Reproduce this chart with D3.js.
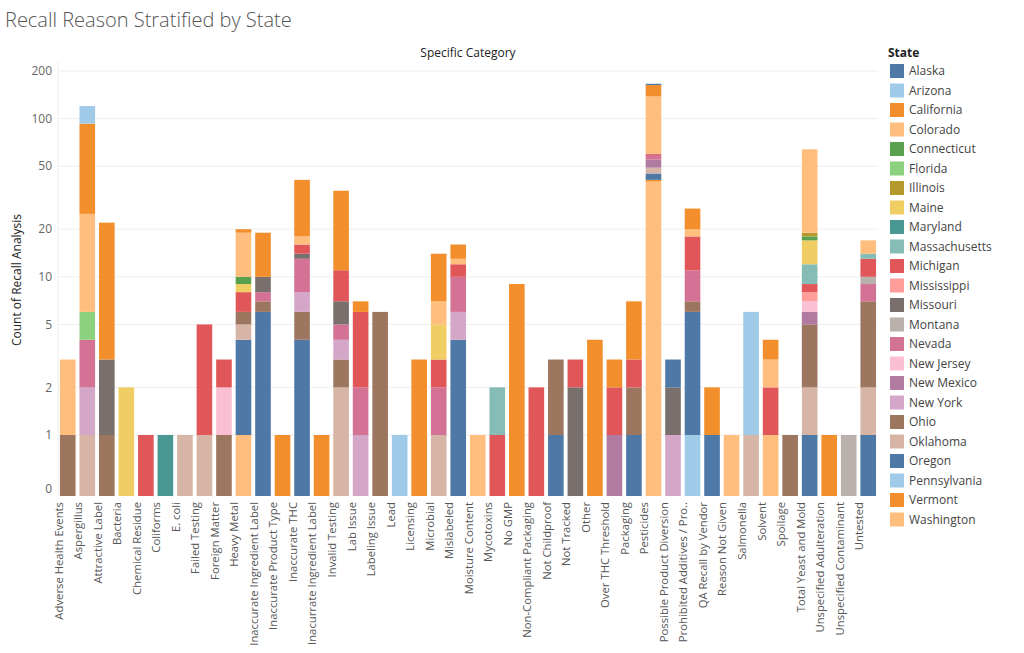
<!DOCTYPE html>
<html><head><meta charset="utf-8">
<script src="https://cdn.jsdelivr.net/npm/d3@7"></script>
<style>body{margin:0;background:#fff;font-family:"Open Sans",Lato,sans-serif}</style>
</head><body><svg id="c" width="1024" height="653"></svg>
<script>
const states = ["Alaska","Arizona","California","Colorado","Connecticut","Florida","Illinois","Maine","Maryland","Massachusetts","Michigan","Mississippi","Missouri","Montana","Nevada","New Jersey","New Mexico","New York","Ohio","Oklahoma","Oregon","Pennsylvania","Vermont","Washington"];
const stateColors = ["#4E79A7","#A0CBE8","#F28E2B","#FFBE7D","#59A14F","#8CD17D","#B6992D","#F1CE63","#499894","#86BCB6","#E15759","#FF9D9A","#79706E","#BAB0AC","#D37295","#FABFD2","#B07AA1","#D4A6C8","#9D7660","#D7B5A6","#4E79A7","#A0CBE8","#F28E2B","#FFBE7D"];
const categories = ["Adverse Health Events","Aspergillus","Attractive Label","Bacteria","Chemical Residue","Coliforms","E. coli","Failed Testing","Foreign Matter","Heavy Metal","Inaccurate Ingredient Label","Inaccurate Product Type","Inaccurate THC","Inacurrate Ingredient Label","Invalid Testing","Lab Issue","Labeling Issue","Lead","Licensing","Microbial","Mislabeled","Moisture Content","Mycotoxins","No GMP","Non-Compliant Packaging","Not Childproof","Not Tracked","Other","Over THC Threshold","Packaging","Pesticides","Possible Product Diversion","Prohibited Additives / Pro..","QA Recall by Vendor","Reason Not Given","Salmonella","Solvent","Spoilage","Total Yeast and Mold","Unspecified Adulteration","Unspecified Contaminant","Untested"];
// stack segments per category, bottom to top: [state, count]
const segments = [
 [["Ohio",1],["Washington",2]],
 [["Oklahoma",1],["New York",1],["Nevada",2],["Florida",2],["Colorado",19],["California",68],["Pennsylvania",27]],
 [["Ohio",1],["Missouri",2],["California",19]],
 [["Maine",2]],
 [["Michigan",1]],
 [["Maryland",1]],
 [["Oklahoma",1]],
 [["Oklahoma",1],["Michigan",4]],
 [["Ohio",1],["New Jersey",1],["Michigan",1]],
 [["Washington",1],["Oregon",3],["Oklahoma",1],["Ohio",1],["Michigan",2],["Maine",1],["Connecticut",1],["Colorado",9],["California",1]],
 [["Oregon",6],["Ohio",1],["Nevada",1],["Missouri",2],["California",9]],
 [["California",1]],
 [["Oregon",4],["Ohio",2],["New York",2],["Nevada",5],["Missouri",1],["Michigan",2],["Colorado",2],["California",23]],
 [["California",1]],
 [["Oklahoma",2],["Ohio",1],["New York",1],["Nevada",1],["Missouri",2],["Michigan",4],["California",24]],
 [["New York",1],["Nevada",1],["Michigan",4],["California",1]],
 [["Ohio",6]],
 [["Pennsylvania",1]],
 [["California",3]],
 [["Oklahoma",1],["Nevada",1],["Michigan",1],["Maine",2],["Colorado",2],["California",7]],
 [["Oregon",4],["New York",2],["Nevada",4],["Michigan",2],["Colorado",1],["California",3]],
 [["Washington",1]],
 [["Michigan",1],["Massachusetts",1]],
 [["California",9]],
 [["Michigan",2]],
 [["Oregon",1],["Ohio",2]],
 [["Missouri",2],["Michigan",1]],
 [["California",4]],
 [["New Mexico",1],["Michigan",1],["California",1]],
 [["Oregon",1],["Ohio",1],["Michigan",1],["California",4]],
 [["Washington",40],["California",1],["Oregon",4],["Oklahoma",4],["New Mexico",6],["Nevada",4],["Michigan",1],["Colorado",78],["California",25],["Oregon",3]],
 [["New York",1],["Missouri",1],["Oregon",1]],
 [["Pennsylvania",1],["Oregon",5],["Ohio",1],["Nevada",4],["Michigan",7],["Colorado",2],["California",7]],
 [["Oregon",1],["California",1]],
 [["Washington",1]],
 [["Oklahoma",1],["Pennsylvania",5]],
 [["Washington",1],["Michigan",1],["Colorado",1],["California",1]],
 [["Ohio",1]],
 [["Oregon",1],["Oklahoma",1],["Ohio",3],["New Mexico",1],["New Jersey",1],["Mississippi",1],["Michigan",1],["Massachusetts",3],["Maine",5],["Connecticut",1],["Illinois",1],["Colorado",45]],
 [["California",1]],
 [["Montana",1]],
 [["Oregon",1],["Oklahoma",1],["Ohio",5],["Nevada",2],["Montana",1],["Michigan",3],["Massachusetts",1],["Colorado",3]]
];
const yTicks = [0,1,2,5,10,20,50,100,200];

const svg = d3.select("#c");
const color = d3.scaleOrdinal().domain(states).range(stateColors);
const x = d3.scaleBand().domain(categories).range([58,878]).paddingInner(0.2).paddingOuter(0.1);
const ylog = d3.scaleLog().domain([1,200]).range([435,71]);
const y = v => v<=0 ? 489 : ylog(v);
const base = 496;

svg.append("text").attr("x",5).attr("y",27).attr("font-size",20).attr("fill","#555").attr("font-weight",300).text("Recall Reason Stratified by State");
svg.append("text").attr("x",468).attr("y",57).attr("text-anchor","middle").attr("font-size",12).attr("fill","#222").text("Specific Category");

svg.selectAll("line.grid").data(yTicks.slice(1)).join("line")
 .attr("x1",58).attr("x2",878).attr("y1",d=>y(d)).attr("y2",d=>y(d)).attr("stroke","#eee");
svg.selectAll("text.yt").data(yTicks).join("text")
 .attr("x",52).attr("y",d=>y(d)).attr("dy","0.35em").attr("text-anchor","end")
 .attr("font-size",12).attr("fill","#666").text(d=>d);
svg.append("line").attr("x1",58).attr("x2",58).attr("y1",62).attr("y2",496).attr("stroke","#eee");
svg.append("text").attr("transform","translate(21,280) rotate(-90)").attr("text-anchor","middle").attr("font-size",12).attr("fill","#222").text("Count of Recall Analysis");

categories.forEach((c,i)=>{
  let cum=0;
  segments[i].forEach(([s,v])=>{
    const y0=cum, y1=cum+v; cum=y1;
    const top=y(y1), bot = y0===0?base:y(y0);
    svg.append("rect").attr("x",x(c)).attr("width",x.bandwidth()).attr("y",top).attr("height",bot-top).attr("fill",color(s));
  });
});

const xa = svg.append("g").attr("transform","translate(0,496)").call(d3.axisBottom(x).tickSize(0).tickPadding(6));
xa.select(".domain").remove();
xa.selectAll("text").attr("font-size",11.3).attr("fill","#555").attr("font-family","Open Sans")
 .attr("transform","rotate(-90)").attr("text-anchor","end").attr("dx","-6").attr("dy","-0.45em").attr("y",0).attr("x",0);

const lg = svg.append("g").attr("transform","translate(888,0)");
lg.append("text").attr("x",0).attr("y",57).attr("font-size",12).attr("font-weight","bold").attr("fill","#222").text("State");
states.forEach((s,i)=>{
  const yy=64+i*19.5;
  lg.append("rect").attr("x",2).attr("y",yy).attr("width",14).attr("height",14).attr("fill",stateColors[i]);
  lg.append("text").attr("x",21).attr("y",yy+11).attr("font-size",12).attr("fill","#444").text(s);
});
</script></body></html>
